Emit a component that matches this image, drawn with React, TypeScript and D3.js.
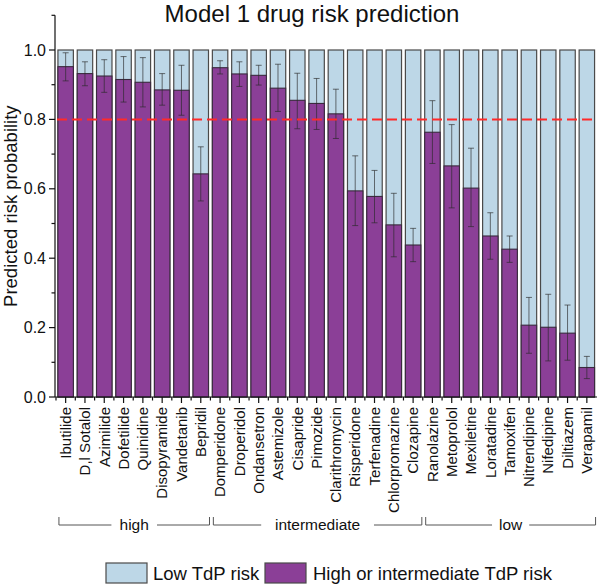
import React from "react";
import * as d3 from "d3";

const drugs = [
  "Ibutilide", "D,l Sotalol", "Azimilide", "Dofetilide", "Quinidine", "Disopyramide", "Vandetanib", "Bepridil",
  "Domperidone", "Droperidol", "Ondansetron", "Astemizole", "Cisapride", "Pimozide", "Clarithromycin", "Risperidone",
  "Terfenadine", "Chlorpromazine", "Clozapine",
  "Ranolazine", "Metoprolol", "Mexiletine", "Loratadine", "Tamoxifen", "Nitrendipine", "Nifedipine", "Diltiazem", "Verapamil",
];
const predicted = [0.952, 0.932, 0.925, 0.915, 0.907, 0.885, 0.884, 0.643, 0.949, 0.931, 0.927, 0.89, 0.855, 0.846, 0.816, 0.594, 0.578, 0.496, 0.438, 0.763, 0.666, 0.602, 0.464, 0.426, 0.207, 0.201, 0.184, 0.085];
const errUpper = [0.992, 0.966, 0.972, 0.981, 0.978, 0.932, 0.956, 0.721, 0.969, 0.966, 0.956, 0.959, 0.933, 0.918, 0.887, 0.695, 0.653, 0.587, 0.486, 0.854, 0.785, 0.717, 0.531, 0.464, 0.287, 0.296, 0.265, 0.117];
const errLower = [0.911, 0.897, 0.878, 0.85, 0.836, 0.841, 0.812, 0.565, 0.931, 0.895, 0.899, 0.823, 0.773, 0.771, 0.745, 0.494, 0.502, 0.404, 0.39, 0.673, 0.545, 0.491, 0.397, 0.388, 0.126, 0.104, 0.106, 0.053];
const groupLabels = ["high", "intermediate", "low"];
const groupSizes = [8, 11, 9];
const majorTicks = [0, 0.2, 0.4, 0.6, 0.8, 1.0];
const minorTicks = [0.1, 0.3, 0.5, 0.7, 0.9, 1.1];
const threshold = 0.8;
const legendLabels = ["Low TdP risk", "High or intermediate TdP risk"];

const BLUE = "#bdd7e7";
const PURPLE = "#8b3f97";
const FONT = "'Liberation Sans', Arial, sans-serif";

export default function App() {
  const W = 600, H = 585;
  const x = d3.scaleBand<string>().domain(drugs).range([56, 596.5]).paddingInner(0.2).paddingOuter(0.1);
  const y = d3.scaleLinear().domain([0, 1.1]).range([397, 15.3]);
  const bw = x.bandwidth();
  const step = x.step();
  const axisX = 55;

  let idx = 0;
  const groups = groupLabels.map((label, g) => {
    const first = idx;
    const last = idx + groupSizes[g] - 1;
    idx += groupSizes[g];
    return { label, first, last };
  });

  const bracketY = 525;
  const legendX = [106, 265];
  const legendTextX = [153, 313];

  return (
    <svg width={W} height={H} style={{ position: "absolute", left: 0, top: 0, background: "#fff" }} fontFamily={FONT}>
      <text x={312} y={22} textAnchor="middle" fontSize={24} fill="#111">Model 1 drug risk prediction</text>

      {drugs.map((d, i) => {
        const bx = x(d)!;
        const cx = bx + bw / 2;
        return (
          <g key={d}>
            <rect x={bx} y={y(1)} width={bw} height={y(0) - y(1)} fill={BLUE} stroke="#4a4a4a" strokeWidth={1.2} />
            <rect x={bx} y={y(predicted[i])} width={bw} height={y(0) - y(predicted[i])} fill={PURPLE} stroke="#3a2a3e" strokeWidth={1.1} />
            <g stroke="#2a2a2a" strokeOpacity={0.65} strokeWidth={1}>
              <line x1={cx} x2={cx} y1={y(errUpper[i])} y2={y(errLower[i])} />
              <line x1={cx - 3} x2={cx + 3} y1={y(errUpper[i])} y2={y(errUpper[i])} />
              <line x1={cx - 3} x2={cx + 3} y1={y(errLower[i])} y2={y(errLower[i])} />
            </g>
          </g>
        );
      })}

      <line x1={57} x2={597} y1={y(threshold)} y2={y(threshold)} stroke="#ff2a2a" strokeWidth={2} strokeDasharray="10 5" />

      {/* y axis */}
      <line x1={axisX} x2={axisX} y1={y(0)} y2={y(1.1)} stroke="#111" strokeWidth={1.2} />
      {majorTicks.map((t) => (
        <g key={"M" + t}>
          <line x1={axisX - 6} x2={axisX} y1={y(t)} y2={y(t)} stroke="#111" strokeWidth={1.2} />
          <text x={46} y={y(t)} dy="0.35em" textAnchor="end" fontSize={16} fill="#111">{t.toFixed(1)}</text>
        </g>
      ))}
      {minorTicks.map((t) => (
        <line key={"m" + t} x1={axisX - 3.5} x2={axisX} y1={y(t)} y2={y(t)} stroke="#111" strokeWidth={1.2} />
      ))}
      <text transform={`translate(11,${(y(0) + y(1.1)) / 2}) rotate(-90)`} dy="0.35em" textAnchor="middle" fontSize={18.5} fill="#111">
        Predicted risk probability
      </text>

      {/* x axis */}
      <line x1={axisX} x2={597} y1={y(0)} y2={y(0)} stroke="#111" strokeWidth={1.2} />
      {drugs.map((d) => {
        const cx = x(d)! + bw / 2;
        return (
          <g key={"t" + d}>
            <line x1={cx} x2={cx} y1={y(0)} y2={y(0) + 6} stroke="#111" strokeWidth={1.2} />
            <line x1={cx - step / 2} x2={cx - step / 2} y1={y(0)} y2={y(0) + 3.5} stroke="#111" strokeWidth={1.2} />
            <text transform={`translate(${cx},${y(0) + 10}) rotate(-90)`} dy="0.35em" textAnchor="end" fontSize={15} fill="#111">{d}</text>
          </g>
        );
      })}

      {/* group brackets */}
      {groups.map((g) => {
        const left = x(drugs[g.first])! + 1;
        const right = x(drugs[g.last])! + bw + 1;
        const mid = (left + right) / 2;
        const halfText = g.label.length * 4.2 + 6;
        return (
          <g key={g.label} stroke="#555" strokeWidth={1}>
            <path d={`M${left},${bracketY - 8}V${bracketY}H${mid - halfText}`} fill="none" />
            <path d={`M${mid + halfText},${bracketY}H${right}V${bracketY - 8}`} fill="none" />
            <text x={mid} y={bracketY + 5} textAnchor="middle" fontSize={15.5} fill="#111" stroke="none">{g.label}</text>
          </g>
        );
      })}

      {/* legend */}
      {legendLabels.map((l, i) => (
        <g key={l}>
          <rect x={legendX[i]} y={563} width={41} height={20} fill={i === 0 ? BLUE : PURPLE} stroke="#4a4a4a" strokeWidth={1.2} />
          <text x={legendTextX[i]} y={580} fontSize={18.5} fill="#111">{l}</text>
        </g>
      ))}
    </svg>
  );
}
